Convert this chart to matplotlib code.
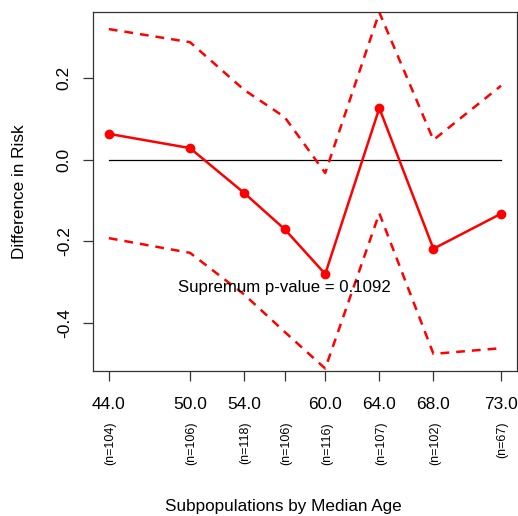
import matplotlib
matplotlib.use("Agg")
import matplotlib.pyplot as plt

plt.rcParams['font.family'] = ['Liberation Sans', 'DejaVu Sans']

# median age of each subpopulation
ages = [44.0, 50.0, 54.0, 57.0, 60.0, 64.0, 68.0, 73.0]
tick_labels = ["44.0", "50.0", "54.0", "", "60.0", "64.0", "68.0", "73.0"]
n_sizes = ["(n=104)", "(n=106)", "(n=118)", "(n=106)", "(n=116)", "(n=107)", "(n=102)", "(n=67)"]

# difference in risk and confidence band
diff = [0.064, 0.029, -0.081, -0.170, -0.280, 0.127, -0.218, -0.132]
upper = [0.321, 0.289, 0.172, 0.105, -0.032, 0.362, 0.049, 0.182]
lower = [-0.192, -0.228, -0.330, -0.422, -0.512, -0.131, -0.476, -0.462]

pvalue_text = "Supremum p-value = 0.1092"
yticks = [-0.4, -0.2, 0.0, 0.2]
ytick_labels = ["-0.4", "-0.2", "0.0", "0.2"]

fig = plt.figure(figsize=(5.18, 5.16), dpi=100)
ax = fig.add_axes([93.3 / 518, 1 - 371 / 516, (517 - 93.3) / 518, (371 - 12) / 516])

ax.plot([ages[0], ages[-1]], [0, 0], color="black", lw=0.9)
ax.plot(ages, upper, color="red", lw=1.8, dashes=(3.5, 2.8))
ax.plot(ages, lower, color="red", lw=1.8, dashes=(3.5, 2.8))
ax.plot(ages, diff, color="red", lw=1.8, marker="o", ms=6)

ax.text(57.0, -0.314, pvalue_text, ha="center", va="center", fontsize=12.1)

ax.set_xlim(42.85, 74.18)
ax.set_ylim(-0.518, 0.363)

ax.set_xticks(ages)
ax.set_xticklabels(tick_labels, fontsize=12.5)
ax.set_yticks(yticks)
ax.set_yticklabels(ytick_labels, fontsize=12.5, rotation=90, va="center")
ax.tick_params(axis="x", length=7.5, width=0.9, pad=11, colors="#333333", labelcolor="black")
ax.tick_params(axis="y", length=7.5, width=0.9, pad=8, colors="#333333", labelcolor="black")
for s in ax.spines.values():
    s.set_color("#333333")
    s.set_linewidth(0.9)

# sample sizes under each tick
for a, n in zip(ages, n_sizes):
    ax.text(a + 0.12, -0.142, n, transform=ax.get_xaxis_transform(), rotation=90,
            ha="center", va="top", fontsize=9)

fig.text(283 / 518, 1 - 506 / 516, "Subpopulations by Median Age",
         ha="center", va="center", fontsize=12.3)
fig.text(20 / 518, 1 - 192 / 516, "Difference in Risk", rotation=90,
         ha="center", va="center", fontsize=12.3)

fig.savefig("out.png", dpi=100)
